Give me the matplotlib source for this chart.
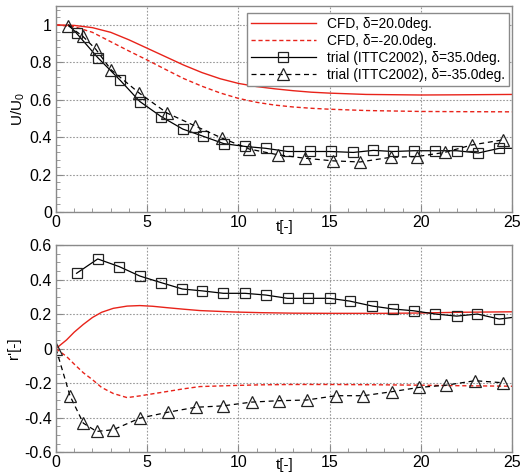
import numpy as np
import matplotlib
matplotlib.use("Agg")
import matplotlib.pyplot as plt
from matplotlib.ticker import AutoMinorLocator

plt.rcParams['font.family'] = ['Liberation Sans', 'DejaVu Sans']
plt.rcParams['mathtext.fontset'] = 'custom'
plt.rcParams['mathtext.rm'] = 'Liberation Sans'
plt.rcParams['mathtext.it'] = 'Liberation Sans'

# ---- speed ratio U/U0 ----
t_cfd_u = [0, 1, 2, 3, 4, 5, 6, 7, 8, 9, 10, 11, 12, 13, 14, 15, 17, 20, 22, 25]
u_cfd_p20 = [1.0, 0.997, 0.985, 0.96, 0.92, 0.875, 0.83, 0.785, 0.745, 0.712, 0.687,
             0.67, 0.658, 0.648, 0.64, 0.635, 0.628, 0.625, 0.626, 0.628]
u_cfd_m20 = [1.0, 0.99, 0.96, 0.91, 0.86, 0.812, 0.762, 0.713, 0.672, 0.636, 0.607,
             0.586, 0.571, 0.561, 0.554, 0.549, 0.542, 0.537, 0.536, 0.535]

# first/last entries are line-only points (no marker)
t_trial_p35 = [0.7, 1.13, 2.29, 3.5, 4.6, 5.76, 6.95, 8.08, 9.2, 10.37, 11.5, 12.7, 13.9,
               15.06, 16.3, 17.4, 18.5, 19.6, 20.8, 21.97, 23.15, 24.3, 25.0]
u_trial_p35 = [1.0, 0.955, 0.825, 0.706, 0.59, 0.51, 0.443, 0.404, 0.365, 0.35, 0.34, 0.323,
               0.323, 0.323, 0.318, 0.329, 0.323, 0.327, 0.327, 0.327, 0.315, 0.34, 0.34]
t_trial_m35 = [0.68, 1.46, 2.18, 3.02, 4.57, 6.1, 7.62, 9.09, 10.6, 12.19, 13.65, 15.2,
               16.67, 18.35, 19.8, 21.3, 22.8, 24.5]
u_trial_m35 = [0.995, 0.94, 0.87, 0.76, 0.635, 0.528, 0.46, 0.395, 0.336, 0.305, 0.287,
               0.273, 0.267, 0.292, 0.296, 0.318, 0.358, 0.385]

# ---- yaw rate r' ----
t_cfd_r = [0, 0.58, 1, 1.5, 2, 2.5, 3.14, 3.9, 4.6, 5.3, 6.07, 7, 7.9, 9.7, 11.2, 13, 15, 18, 20, 22, 25]
r_cfd_p20 = [0, 0.05, 0.095, 0.14, 0.18, 0.21, 0.233, 0.246, 0.249, 0.245, 0.237, 0.228,
             0.22, 0.212, 0.208, 0.205, 0.204, 0.204, 0.206, 0.21, 0.213]
r_cfd_m20 = [0, -0.046, -0.09, -0.14, -0.18, -0.225, -0.26, -0.284, -0.274, -0.262, -0.249,
             -0.233, -0.22, -0.214, -0.21, -0.208, -0.208, -0.21, -0.212, -0.215, -0.218]

t_rtrial_p35 = [1.13, 2.29, 3.46, 4.6, 5.76, 6.93, 8.03, 9.18, 10.37, 11.5, 12.7, 13.8, 15.0,
                16.1, 17.35, 18.5, 19.6, 20.8, 21.97, 23.1, 24.3, 25.0]
r_trial_p35 = [0.436, 0.519, 0.475, 0.42, 0.382, 0.345, 0.334, 0.32, 0.32, 0.31, 0.291, 0.291,
               0.291, 0.275, 0.246, 0.229, 0.219, 0.2, 0.188, 0.2, 0.171, 0.18]
t_rtrial_m35 = [0.0, 0.77, 1.5, 2.23, 3.14, 4.6, 6.12, 7.66, 9.14, 10.73, 12.2, 13.74, 15.35,
                16.85, 18.4, 19.9, 21.4, 22.97, 24.5]
r_trial_m35 = [0.0, -0.274, -0.432, -0.48, -0.47, -0.403, -0.369, -0.34, -0.332, -0.31, -0.302,
               -0.298, -0.273, -0.273, -0.25, -0.225, -0.212, -0.186, -0.198]

labels = ['CFD, δ=20.0deg.', 'CFD, δ=-20.0deg.',
          'trial (ITTC2002), δ=35.0deg.', 'trial (ITTC2002), δ=-35.0deg.']

red = '#e8231a'
frame = '#8a8a8a'

fig = plt.figure(figsize=(5.23, 4.72), dpi=100)
ax1 = fig.add_axes([0.107, 0.551, 0.872, 0.436])
ax2 = fig.add_axes([0.107, 0.042, 0.872, 0.439])

mk = dict(markerfacecolor='none', markeredgecolor='#222222', markeredgewidth=0.9)

ax1.plot(t_cfd_u, u_cfd_p20, color=red, lw=1.0, label=labels[0])
ax1.plot(t_cfd_u, u_cfd_m20, color=red, lw=1.0, ls=(0, (3, 2)), label=labels[1])
ax1.plot(t_trial_p35, u_trial_p35, color='black', lw=0.9, marker='s', ms=6.8,
         markevery=slice(1, len(t_trial_p35) - 1), label=labels[2], **mk)
ax1.plot(t_trial_m35, u_trial_m35, color='black', lw=0.9, ls=(0, (4, 3)), marker='^', ms=8,
         label=labels[3], **mk)

ax2.plot(t_cfd_r, r_cfd_p20, color=red, lw=1.0)
ax2.plot(t_cfd_r, r_cfd_m20, color=red, lw=1.0, ls=(0, (3, 2)))
ax2.plot(t_rtrial_p35, r_trial_p35, color='black', lw=0.9, marker='s', ms=6.8,
         markevery=slice(0, len(t_rtrial_p35) - 1), **mk)
ax2.plot(t_rtrial_m35, r_trial_m35, color='black', lw=0.9, ls=(0, (4, 3)), marker='^', ms=8, **mk)

for ax in (ax1, ax2):
    ax.set_xlim(0, 25)
    ax.set_xticks([0, 5, 10, 15, 20, 25])
    ax.xaxis.set_minor_locator(AutoMinorLocator(5))
    ax.grid(True, which='major', color='#999999', ls=(0, (1.5, 1.5)), lw=0.8)
    ax.tick_params(which='both', direction='in', top=False, right=False,
                   labelsize=11.5, color=frame)
    ax.tick_params(axis='y', pad=3)
    ax.tick_params(axis='x', pad=2)
    ax.tick_params(which='major', length=5)
    ax.tick_params(which='minor', length=3)
    for s in ax.spines.values():
        s.set_color(frame)
        s.set_linewidth(1.0)
    ax.set_xlabel('t[-]', fontsize=11, va='center')

ax1.xaxis.set_label_coords(0.502, -0.073)
ax2.xaxis.set_label_coords(0.502, -0.064)

ax1.set_ylim(0, 1.1)
ax1.set_yticks([0, 0.2, 0.4, 0.6, 0.8, 1])
ax1.set_yticklabels(['0', '0.2', '0.4', '0.6', '0.8', '1'])
ax1.yaxis.set_minor_locator(AutoMinorLocator(5))
ax1.set_ylabel('U/U$_0$', fontsize=11, labelpad=2)

ax2.set_ylim(-0.6, 0.6)
ax2.set_yticks([-0.6, -0.4, -0.2, 0, 0.2, 0.4, 0.6])
ax2.set_yticklabels(['-0.6', '-0.4', '-0.2', '0', '0.2', '0.4', '0.6'])
ax2.yaxis.set_minor_locator(AutoMinorLocator(4))
ax2.set_ylabel("r'[-]", fontsize=11, labelpad=2)

leg = ax1.legend(loc='upper right', bbox_to_anchor=(0.993, 0.966), fontsize=9.9,
                 fancybox=False, framealpha=1, edgecolor=frame, handlelength=4.7,
                 handletextpad=0.8, borderpad=0.3, labelspacing=0.2, borderaxespad=0.0)
leg.get_frame().set_linewidth(1.0)

fig.savefig('out.png', dpi=100)
